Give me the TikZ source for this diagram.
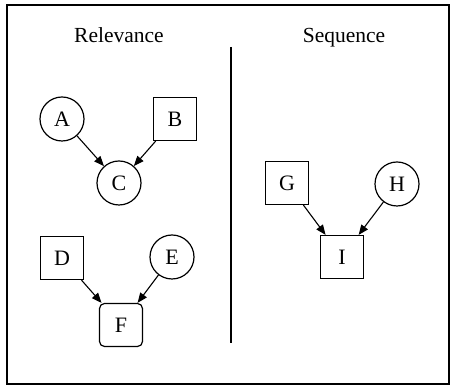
\documentclass[tikz,border=0pt]{standalone}
\usepackage{fontspec}
\setmainfont{Liberation Serif}
\usetikzlibrary{arrows.meta}
\begin{document}
\begin{tikzpicture}[x=1pt,y=1pt,
  every node/.style={font=\fontsize{22}{24}\selectfont},
  circ/.style={draw,circle,line width=1.2pt,minimum size=44pt,inner sep=0pt},
  sq/.style={draw,rectangle,line width=1.2pt,minimum size=43pt,inner sep=0pt},
  rsq/.style={sq,rounded corners=5pt},
  edge/.style={line width=1.1pt,-{Triangle[length=10pt,width=8pt]}},
  title/.style={font=\fontsize{21.5}{24}\selectfont,anchor=base}]
  \useasboundingbox (0,0) rectangle (450,385);
  % outer frame
  \draw[line width=1.4pt] (7,1) rectangle (449,380);
  % panel titles and divider
  \node[title] (rel) at (119,342) {Relevance};
  \node[title] (seq) at (344,342) {Sequence};
  \coordinate (divtop) at (231,338);
  \coordinate (divbot) at (231,42);
  \draw[line width=1.2pt] (divtop) -- (divbot);
  % relevance: first group
  \node[circ] (A) at (62,266) {A};
  \node[sq]   (B) at (175,266) {B};
  \node[circ] (C) at (119,202) {C};
  % relevance: second group
  \node[sq]   (D) at (62,127) {D};
  \node[circ] (E) at (172,128) {E};
  \node[rsq]  (F) at (121,60) {F};
  % sequence
  \node[sq]   (G) at (287,202) {G};
  \node[circ] (H) at (397,201) {H};
  \node[sq]   (I) at (342,128) {I};
  % arcs
  \draw[edge] (A) -- (C);
  \draw[edge] (B) -- (C);
  \draw[edge] (D) -- (F);
  \draw[edge] (E) -- (F);
  \draw[edge] (G) -- (I);
  \draw[edge] (H) -- (I);
\end{tikzpicture}
\end{document}
